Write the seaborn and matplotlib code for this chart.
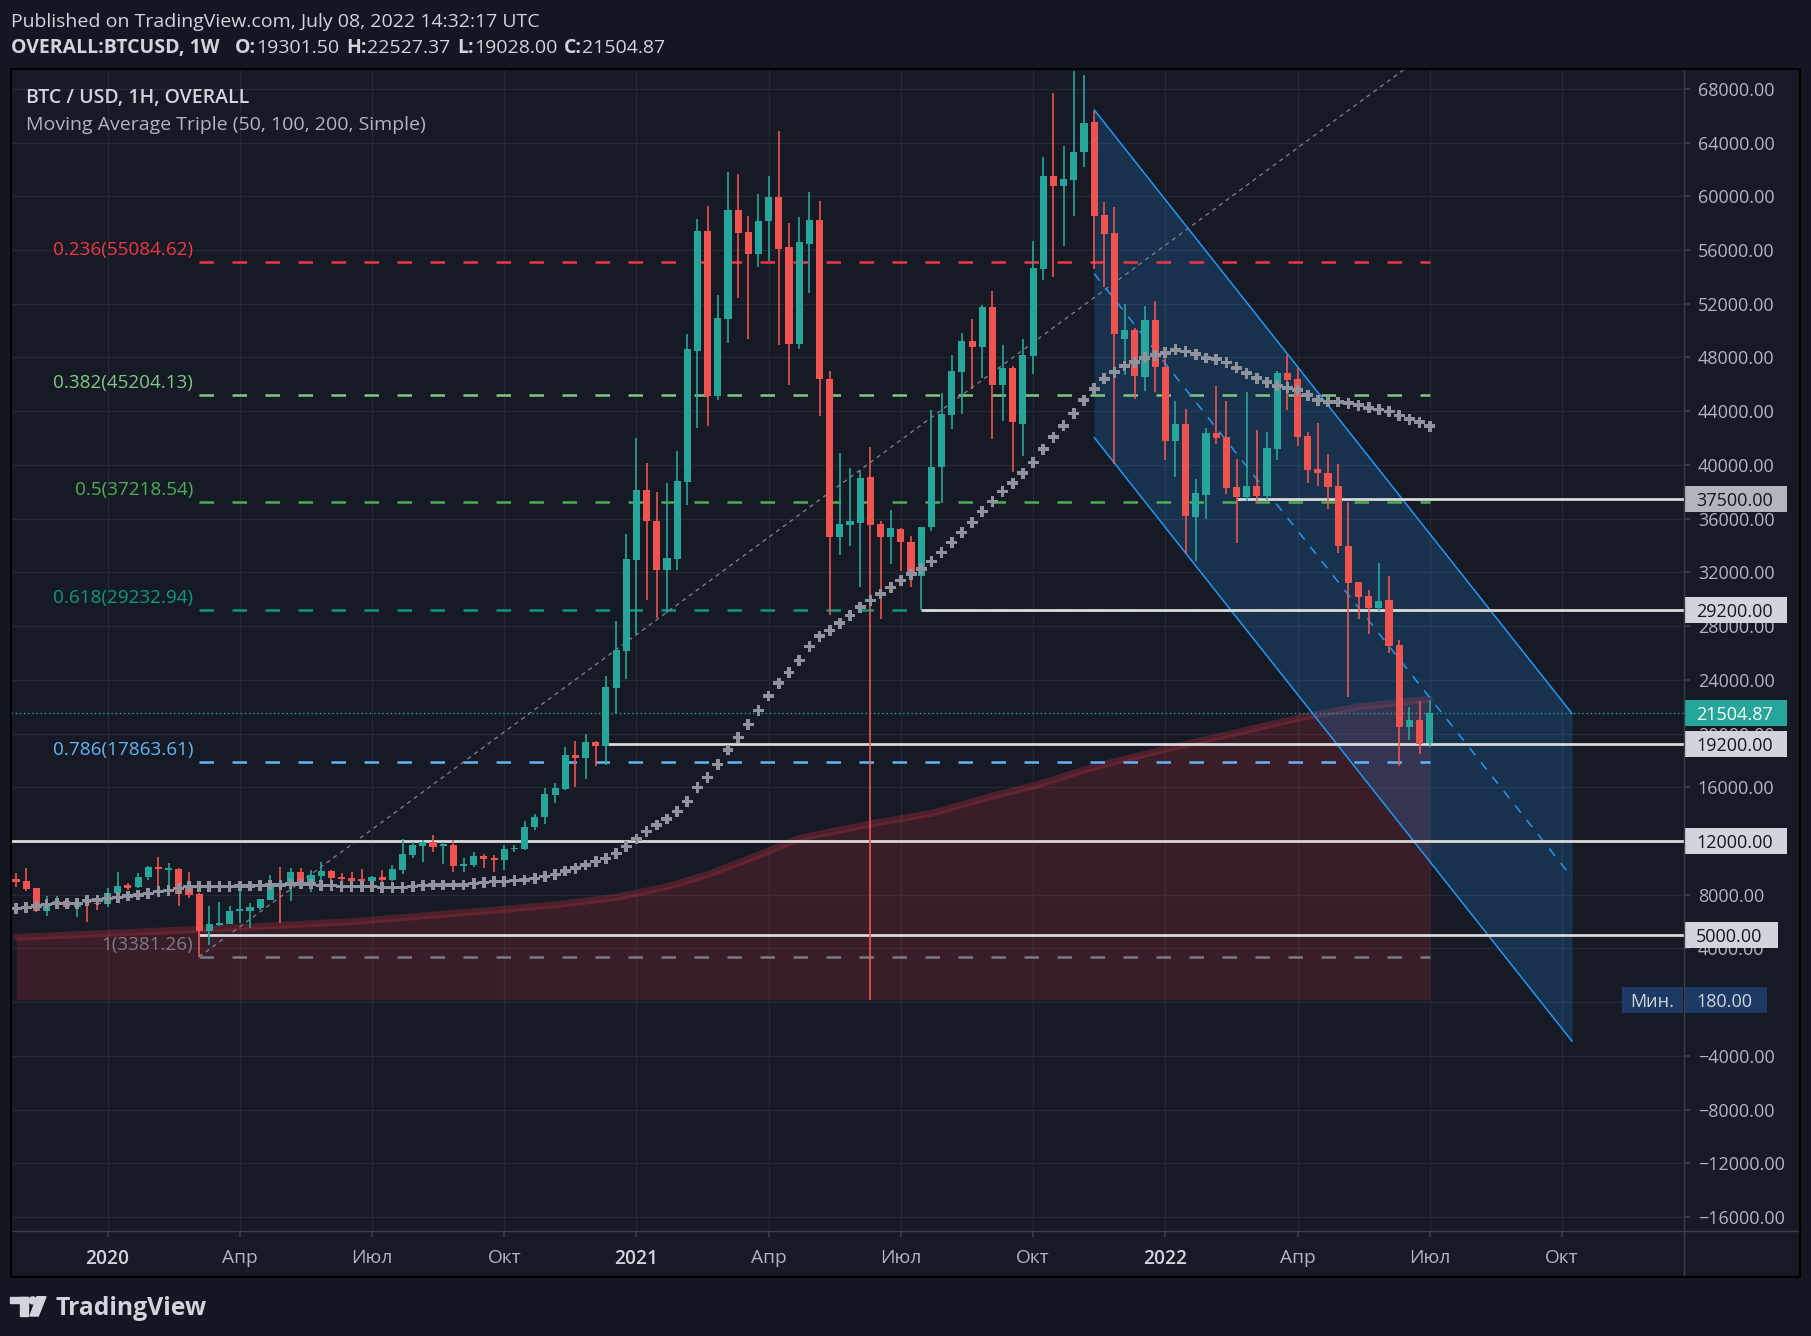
import numpy as np
import pandas as pd
import matplotlib
matplotlib.use("Agg")
import matplotlib.pyplot as plt
import matplotlib.transforms as mtransforms
from matplotlib.patches import Rectangle, Polygon, Circle
from matplotlib.lines import Line2D
import seaborn as sns

# weekly bars of OVERALL:BTCUSD, first bar = week of 2019-11-04
first_week = "2019-11-04"

opens = [9144, 9020, 8474, 6811, 7357, 7506, 7059, 7506, 7407, 7307,
         8151, 8697, 8548, 9293, 10087, 9860, 9889, 8474, 8052, 5322,
         5744, 5818, 6811, 6811, 7034, 7605, 8896, 8846, 9665, 8846,
         9392, 9764, 9293, 9218, 9094, 9045, 9293, 9094, 9839, 10981,
         11651, 11899, 11626, 11700, 10162, 10212, 10882, 10757, 10584, 11378,
         11402, 13016, 13800, 15420, 15885, 18410, 18144, 19374, 19075, 23396,
         26154, 32935, 38122, 35828, 32205, 33003, 38754, 48493, 57434, 45168,
         50886, 58996, 57334, 55705, 58132, 59960, 56237, 49024, 56470, 58232,
         46365, 34665, 35563, 35696, 39119, 35596, 34665, 35213, 34255, 31756,
         35372, 39839, 43748, 46938, 49225, 48747, 51752, 45982, 47232, 43083,
         48135, 54623, 61510, 60792, 61244, 63265, 65525, 58612, 57282, 49411,
         50049, 46567, 50794, 47270, 41780, 43034, 36137, 37761, 42407, 42065,
         38360, 37619, 38417, 37676, 41181, 46853, 46397, 42150, 39700, 39386,
         38417, 34000, 31264, 30238, 29326, 29924, 26589, 20519, 20975, 19301.50]

highs = [9590, 9963, 8500, 7903, 7903, 7729, 7506, 7556, 7729, 8474,
         9665, 8846, 9590, 10150, 10832, 10385, 9963, 9665, 8100, 7158,
         7431, 7158, 8970, 7406, 7680, 9467, 10087, 9963, 9963, 9839,
         10410, 9839, 9590, 9715, 9889, 9392, 9839, 10212, 12147, 11899,
         12073, 12445, 11899, 12073, 10708, 11155, 11030, 10956, 11700, 11700,
         13488, 14000, 15950, 16350, 18975, 19473, 19972, 19473, 24293, 28382,
         34864, 42010, 40149, 37988, 38686, 41013, 49722, 58298, 59295, 52647,
         61821, 61655, 58531, 60159, 61522, 64879, 58000, 58498, 60326, 59661,
         46997, 40880, 39783, 39617, 41345, 35829, 36660, 35319, 34707, 35400,
         44094, 45370, 48188, 49810, 50874, 51885, 52948, 48933, 47365, 49385,
         56671, 62919, 67706, 63744, 69354, 69035, 66350, 59569, 59196, 51991,
         50209, 51858, 52190, 47965, 44744, 44174, 38930, 42749, 45884, 44744,
         40412, 45400, 42606, 42464, 47024, 48164, 47195, 42464, 43119, 40811,
         40070, 37220, 31264, 30665, 32717, 31719, 26931, 21944, 22400, 22527.37]

lows = [8598, 8300, 6740, 6439, 6985, 6985, 6364, 5990, 6860, 7059,
        7804, 8350, 8474, 9094, 8598, 8598, 7158, 7729, 3381.26, 4255,
        5670, 5818, 5868, 5496, 6860, 7605, 5917, 7531, 8598, 8226,
        8970, 9094, 8970, 8970, 8920, 8970, 8226, 9045, 9541, 10757,
        10460, 11204, 10286, 9715, 9715, 10087, 10013, 9665, 9839, 11204,
        11328, 12800, 13250, 14800, 15816, 16049, 16581, 17578, 17645, 21468,
        24061, 27385, 29945, 28615, 28947, 32205, 36991, 42742, 42908, 44836,
        49091, 52448, 49390, 54741, 55173, 48958, 45965, 48625, 52813, 43640,
        28848, 33269, 33933, 30942, 180, 28549, 32604, 32128, 30878, 29204,
        35106, 37180, 42711, 43828, 45689, 46487, 41967, 43296, 39493, 40690,
        46806, 53800, 54012, 56325, 58559, 62175, 54597, 53214, 40105, 46673,
        44945, 45476, 45440, 40355, 39130, 33430, 32860, 35995, 41552, 37847,
        34199, 37334, 37134, 37419, 40355, 44117, 41409, 38645, 38417, 36707,
        33430, 22742, 28527, 27416, 29154, 25991, 17555, 19550, 18467, 19028.00]

closes = [8945, 8424, 6811, 7357, 7531, 7059, 7481, 7357, 7282, 8102,
          8648, 8474, 9293, 10087, 9889, 9900, 8052, 7978, 5322, 5818,
          5918, 6786, 6910, 7109, 7680, 8846, 8722, 9665, 8846, 9467,
          9764, 9268, 9144, 9045, 9020, 9293, 9094, 9889, 11030, 11700,
          11899, 11576, 11750, 10162, 10286, 10882, 10658, 10584, 11378, 11502,
          13016, 13800, 15483, 15951, 18377, 18144, 19374, 19108, 23462, 26221,
          33003, 38122, 35795, 32205, 33103, 38820, 48626, 57434, 45168, 50952,
          58996, 57301, 55705, 58165, 59960, 56104, 49024, 56603, 58232, 46365,
          34665, 35596, 35828, 39020, 35563, 34665, 35319, 34255, 31942, 35372,
          39839, 43774, 46992, 49225, 48747, 51752, 45982, 47232, 43163, 48188,
          54677, 61510, 60792, 61297, 63292, 65472, 58559, 57229, 49784, 50049,
          46646, 50794, 47258, 41800, 43034, 36194, 37904, 42407, 42008, 38274,
          37619, 38417, 37676, 41267, 46853, 46312, 42065, 39614, 39386, 38360,
          34000, 31207, 30152, 29326, 29867, 26504, 20519, 20975, 19237, 21504.87]

# moving average drawn as crosses, one per bar
ma_cross = [6985, 7059, 7158, 7282, 7357, 7357, 7357, 7556, 7605, 7704,
            7804, 7903, 7978, 8102, 8226, 8300, 8474, 8598, 8598, 8598,
            8598, 8598, 8648, 8648, 8672, 8722, 8722, 8797, 8797, 8797,
            8672, 8672, 8598, 8598, 8598, 8598, 8548, 8548, 8548, 8598,
            8672, 8722, 8722, 8722, 8722, 8846, 8896, 8970, 8970, 9045,
            9094, 9219, 9343, 9517, 9765, 9964, 10212, 10460, 10708, 11080,
            11577, 12148, 12694, 13190, 13637, 14183, 14952, 15970, 16739, 17683,
            18775, 19693, 20686, 21703, 22795, 23739, 24533, 25450, 26487, 27252,
            27683, 28215, 28781, 29412, 29911, 30390, 30877, 31390, 31862, 32261,
            32820, 33484, 34229, 34973, 35718, 36542, 37287, 38031, 38643, 39387,
            40185, 41169, 42073, 42923, 43828, 44812, 45663, 46407, 46913, 47365,
            47657, 47976, 48177, 48340, 48563, 48449, 48250, 47964, 47879, 47622,
            47223, 46825, 46454, 46169, 45884, 45742, 45571, 45200, 44830, 44687,
            44687, 44602, 44459, 44260, 44117, 43974, 43690, 43405, 43177, 42891]

# long moving average (red area), read at some bars
ma_area_bar = [0, 18, 33, 47, 53, 59, 64, 68, 73, 77, 84, 90, 96, 100, 105,
               108, 114, 120, 126, 132, 139]
ma_area_val = [4825, 5420, 5990, 6850, 7250, 7800, 8600, 9500, 10950, 12200,
               13270, 14060, 15350, 16090, 17280, 17900, 19020, 20070, 21130,
               22000, 22550]
min_price = 180.00

fib_ratio = ["0.236", "0.382", "0.5", "0.618", "0.786", "1"]
fib_price = [55084.62, 45204.13, 37218.54, 29232.94, 17863.61, 3381.26]
fib_color = ["#f23645", "#81c784", "#4caf50", "#089981", "#64b5f6", "#787b86"]
fib_from, fib_to = 18, 139

levels = [37500, 29200, 19200, 12000, 5000]
level_from = [120, 89, 58, -1, 18]

channel_bar = [106, 153]
channel_up = [66450, 21480]
channel_low = [42050, -2920]

trend_bar = [18, 138]
trend_val = [3381.26, 70300]

last_price = 21504.87

# ---------------- style ----------------
OUTER = "#131722"
INNER = "#161a25"
GRID = "#242834"
SEP = "#3a3e49"
TXT = "#d1d4dc"
TXT2 = "#b2b5be"
UP = "#26a69a"
DOWN = "#ef5350"

sns.set_theme(style="dark", rc={"axes.facecolor": INNER, "figure.facecolor": OUTER})
plt.rcParams["font.family"] = ["Open Sans", "DejaVu Sans"]

W, H = 1811, 1336
fig = plt.figure(figsize=(W / 100, H / 100), dpi=100, facecolor=OUTER)
pix = mtransforms.Affine2D().scale(1.0 / W, -1.0 / H).translate(0, 1) + fig.transFigure

FL, FT, FR, FB = 10.7, 69.3, 1799.5, 1276.5
PR, PB = 1684, 1231

fig.patches.append(Rectangle((FL, FT), FR - FL, FB - FT, transform=pix,
                             facecolor=INNER, edgecolor="none", zorder=-5))

ax = fig.add_axes([FL / W, 1 - PB / H, (PR - FL) / W, (PB - FT) / H])
ax.set_facecolor(INNER)
for s in ax.spines.values():
    s.set_visible(False)

x = np.arange(len(opens))
o = np.array(opens, float)
h = np.array(highs, float)
l = np.array(lows, float)
c = np.array(closes, float)

ymin, ymax = -17041, 69459
ax.set_xlim(-0.526, 164)
ax.set_ylim(ymin, ymax)

# grid / ticks
yt = np.arange(-16000, 68001, 4000)
ax.set_yticks(yt)
# the 0.00 label sits fully under the "180.00" tag, so it is left blank
ax.set_yticklabels(["" if v == 0 else f"{v:.2f}".replace("-", "\u2212") for v in yt])
ax.yaxis.tick_right()

weeks = pd.date_range(first_week, periods=165, freq="W-MON")
month_names = {4: "Апр", 7: "Июл", 10: "Окт"}
tick_pos, tick_lab = [], []
for i, d in enumerate(weeks):
    if d.month in (1, 4, 7, 10) and d.day <= 7:
        tick_pos.append(i)
        tick_lab.append(str(d.year) if d.month == 1 else month_names[d.month])
ax.set_xticks(tick_pos)
ax.set_xticklabels(tick_lab)
ax.tick_params(axis="y", length=4, color=SEP, pad=6, labelsize=13, labelcolor=TXT2)
ax.tick_params(axis="x", length=4, color=SEP, pad=9, labelsize=13.8, labelcolor=TXT2,
               bottom=True)
for t in ax.get_xticklabels():
    if t.get_text().isdigit():
        t.set_color(TXT)
        t.set_fontweight("semibold")
ax.grid(True, color=GRID, lw=1)
ax.set_axisbelow(True)

# red area of the long average
ax.fill_between(ma_area_bar, min_price, ma_area_val, color="#f23645", alpha=0.16, lw=0, zorder=1)
sns.lineplot(x=ma_area_bar, y=ma_area_val, ax=ax, color="#f23645", alpha=0.24, lw=5,
             estimator=None, sort=False, zorder=1.2)

# channel
ax.fill_between(channel_bar, channel_low, channel_up, color="#2196f3", alpha=0.2, lw=0, zorder=1.5)
ax.plot(channel_bar, channel_up, color="#2196f3", lw=1.1, zorder=2.6)
ax.plot(channel_bar, channel_low, color="#2196f3", lw=1.1, zorder=2.6)
mid = [(a + b) / 2 for a, b in zip(channel_up, channel_low)]
ax.plot(channel_bar, mid, color="#2196f3", lw=1.1, ls=(0, (6, 6)), zorder=2.6)

# fib levels
for r, p, col in zip(fib_ratio, fib_price, fib_color):
    ax.plot([fib_from, fib_to], [p, p], color=col, lw=1.8, ls=(0, (5.8, 7.4)), zorder=2)
    ax.annotate(f"{r}({p:.2f})", xy=(fib_from, p), xytext=(-6, 12), textcoords="offset pixels",
                ha="right", va="center", color=col, fontsize=13.6, zorder=8)

# trend line, last price line
ax.plot(trend_bar, trend_val, color="#787b86", lw=1, ls=(0, (3, 3)), zorder=2.5)
ax.axhline(last_price, color=UP, lw=1, ls=(0, (1, 2)), zorder=2)

# horizontal levels
for p, start in zip(levels, level_from):
    ax.plot([start, 164], [p, p], color="#d9d9d9", lw=2, zorder=3, solid_capstyle="butt")

# candles
cols = np.where(c >= o, UP, DOWN)
ax.vlines(x, l, h, colors=cols, lw=1.2, zorder=4)
body = np.maximum(np.abs(c - o), 120)
ax.bar(x, body, bottom=np.minimum(o, c), width=0.7, color=cols, lw=0, zorder=5)

# moving average crosses
sns.scatterplot(x=x, y=ma_cross, ax=ax, marker="P", s=62, color="#8f939e",
                edgecolor="none", zorder=6, legend=False)

# price tags on the axis
axw = PR - FL
vpp = (ymax - ymin) / (PB - FT)
blend = mtransforms.blended_transform_factory(ax.transAxes, ax.transData)


def tag(value, text, face, color, width, x0=1.0, ha="left"):
    hh = 26 * vpp
    ax.add_patch(Rectangle((x0, value - hh / 2), width / axw, hh, transform=blend,
                           facecolor=face, edgecolor="none", clip_on=False, zorder=20))
    tx = x0 + 12 / axw if ha == "left" else x0 + width / 2 / axw
    ax.text(tx, value, text, transform=blend, ha=ha, va="center_baseline",
            color=color, fontsize=13, clip_on=False, zorder=21)


tag(levels[0], f"{levels[0]:.2f}", "#b2b5be", OUTER, 103)
for p in levels[1:4]:
    tag(p, f"{p:.2f}", "#d1d4dc", OUTER, 103)
tag(levels[4], f"{levels[4]:.2f}", "#d1d4dc", OUTER, 94)
tag(last_price, f"{last_price:.2f}", UP, "white", 103)
tag(min_price, f"{min_price:.2f}", "#1c3a63", TXT, 83)
tag(min_price, "Мин.", "#1c3a63", TXT, 61, x0=1.0 - 62 / axw, ha="center")

# separators and frame
fig.lines.append(Line2D([PR, PR], [FT, FB], transform=pix, color=SEP, lw=1, zorder=5))
fig.lines.append(Line2D([FL, FR], [PB, PB], transform=pix, color=SEP, lw=1, zorder=5))
fig.patches.append(Rectangle((FL, FT), FR - FL, FB - FT, transform=pix, fill=False,
                             edgecolor="black", lw=1.5, zorder=6))

# texts
fig.text(10.7, 26.7, "Published on TradingView.com, July 08, 2022 14:32:17 UTC", transform=pix,
         color=TXT, fontsize=14, va="baseline")
renderer = fig.canvas.get_renderer()
parts = [("OVERALL:BTCUSD, 1W", "bold", 16), ("O:", "bold", 0), ("19301.50", "normal", 7),
         ("H:", "bold", 0), ("22527.37", "normal", 7), ("L:", "bold", 0),
         ("19028.00", "normal", 7), ("C:", "bold", 0), ("21504.87", "normal", 0)]
xc = 10.7
for s, wgt, gap in parts:
    t = fig.text(xc, 53.3, s, transform=pix, color=TXT, fontsize=14, fontweight=wgt, va="baseline")
    xc += t.get_window_extent(renderer=renderer).width + gap

fig.text(26, 103, "BTC / USD, 1H, OVERALL", transform=pix, color=TXT, fontsize=14,
         fontweight="semibold", va="baseline", zorder=10)
fig.text(26, 129.5, "Moving Average Triple (50, 100, 200, Simple)", transform=pix, color=TXT2,
         fontsize=14, va="baseline", zorder=10)

# logo
LOGO = "#d1d4dc"
fig.patches.append(Rectangle((9.6, 1296.7), 18.5, 6.6, transform=pix, color=LOGO))
fig.patches.append(Rectangle((19.5, 1296.7), 8.6, 19.3, transform=pix, color=LOGO))
fig.patches.append(Circle((32.6, 1300.4), 3.5, transform=pix, color=LOGO))
fig.patches.append(Polygon([(37, 1296.7), (46, 1296.7), (38.3, 1316), (30, 1316)],
                           closed=True, transform=pix, color=LOGO))
fig.text(55, 1315, "TradingView", transform=pix, color=LOGO, fontsize=17.8,
         fontweight="bold", va="baseline")

fig.savefig("out.png", dpi=100, facecolor=OUTER)
